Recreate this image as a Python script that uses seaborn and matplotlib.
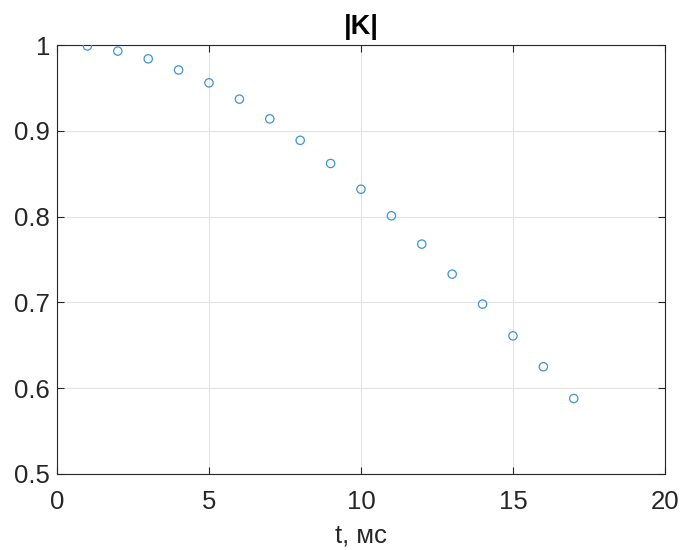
import matplotlib
matplotlib.use("Agg")
import matplotlib.pyplot as plt
import seaborn as sns
import pandas as pd

t_ms = [1, 2, 3, 4, 5, 6, 7, 8, 9, 10, 11, 12, 13, 14, 15, 16, 17]
k_abs = [0.999, 0.993, 0.984, 0.971, 0.956, 0.937, 0.914, 0.889, 0.862,
         0.832, 0.801, 0.768, 0.733, 0.698, 0.661, 0.625, 0.588]
x_ticks = [0, 5, 10, 15, 20]
y_ticks = [0.5, 0.6, 0.7, 0.8, 0.9, 1.0]
y_tick_labels = ["0.5", "0.6", "0.7", "0.8", "0.9", "1"]

sns.set_style("white")
plt.rcParams['font.family'] = ['Liberation Sans', 'DejaVu Sans']

df = pd.DataFrame({"t": t_ms, "k": k_abs})

fig = plt.figure(figsize=(6.82, 5.5), dpi=100)
ax = fig.add_axes([0.0836, 0.1382, 0.8914, 0.7798])

sns.scatterplot(data=df, x="t", y="k", ax=ax, marker="o", s=36,
                facecolors="none", edgecolor="#3f93d6", linewidth=0.9,
                legend=False, zorder=3)

ax.set_xlim(0, 20)
ax.set_ylim(0.5, 1.0)
ax.set_xticks(x_ticks)
ax.set_yticks(y_ticks)
ax.set_yticklabels(y_tick_labels)
ax.grid(True, color="#e3e3e3", linewidth=0.8)
ax.set_axisbelow(True)
ax.tick_params(direction="in", length=5, width=0.8, color="#262626",
               labelsize=18.5, labelcolor="#262626", top=True, right=True,
               bottom=True, left=True, pad=5)
ax.tick_params(axis="x", pad=11.5)
for s in ax.spines.values():
    s.set_color("#262626")
    s.set_linewidth(0.8)
    s.set_visible(True)

ax.set_xlabel("t, мс", fontsize=18.5, color="#262626", labelpad=7)
ax.set_ylabel("")
ax.set_title("|K|", fontsize=19.5, fontweight="bold", color="black", pad=8)

fig.savefig("out.png", dpi=100)
